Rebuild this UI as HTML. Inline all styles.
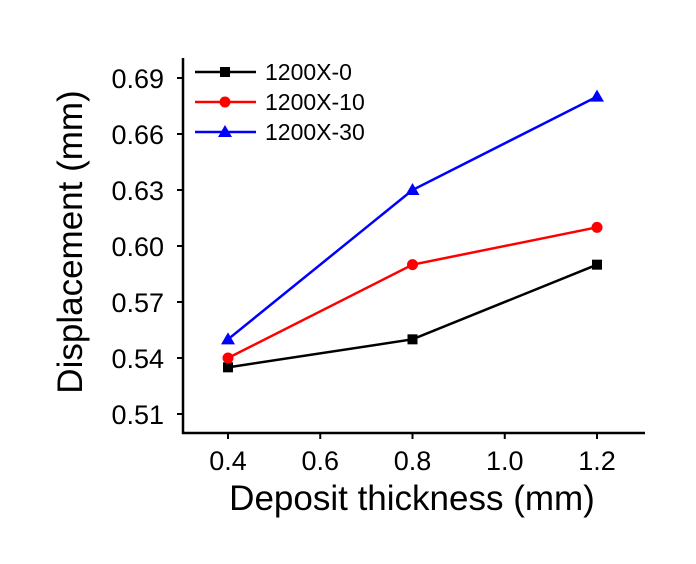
<!DOCTYPE html>
<html><head><meta charset="utf-8"><style>
body{margin:0;background:#fff}
svg text{font-family:"Liberation Sans",Arial,sans-serif}
</style></head><body>
<svg id="chart" width="696" height="559" viewBox="0 0 696 559" xmlns="http://www.w3.org/2000/svg">
<g id="axes"></g><g id="series"></g><g id="legend"></g>
</svg>
<script>
const xValues=[0.4,0.8,1.2];
const seriesNames=["1200X-0","1200X-10","1200X-30"];
const seriesColors=["#000000","#ff0000","#0000ff"];
const markers=["square","circle","triangle"];
const s0=[0.535,0.55,0.59];
const s1=[0.54,0.59,0.61];
const s2=[0.55,0.63,0.68];
const xTicks=[0.4,0.6,0.8,1.0,1.2];
const yTicks=[0.51,0.54,0.57,0.60,0.63,0.66,0.69];
const seriesData=[s0,s1,s2];
const NS="http://www.w3.org/2000/svg";
function X(v){return 228+(v-0.4)/0.2*92.25;}
function Y(v){return 414-(v-0.51)/0.03*56;}
function mk(p,tag,a){const e=document.createElementNS(NS,tag);for(const k in a)e.setAttribute(k,a[k]);p.appendChild(e);return e;}
const ax=document.getElementById('axes');
let e=mk(ax,'line',{x1:183,y1:58,x2:183,y2:434,stroke:'#000','stroke-width':2.5});


e=mk(ax,'line',{x1:182,y1:433,x2:645,y2:433,stroke:'#000','stroke-width':2.5});


yTicks.forEach(t=>{const y=Y(t);
mk(ax,'line',{x1:177,y1:y,x2:183,y2:y,stroke:'#000','stroke-width':2});
const tx=mk(ax,'text',{x:164,y:y+10,'text-anchor':'end','font-size':27});tx.textContent=t.toFixed(2);

});
xTicks.forEach(t=>{const x=X(t);
mk(ax,'line',{x1:x,y1:433,x2:x,y2:439,stroke:'#000','stroke-width':2});
const tx=mk(ax,'text',{x:x,y:470,'text-anchor':'middle','font-size':27});tx.textContent=t.toFixed(1);

});
e=mk(ax,'text',{x:412,y:510,'text-anchor':'middle','font-size':35});e.textContent='Deposit thickness (mm)';


e=mk(ax,'text',{x:0,y:0,'text-anchor':'middle','font-size':35,transform:'translate(82,242) rotate(-90)'});e.textContent='Displacement (mm)';


function marker(g,type,x,y,c){
 if(type==='square')return mk(g,'rect',{x:x-5,y:y-5,width:10,height:10,fill:c});
 if(type==='circle')return mk(g,'circle',{cx:x,cy:y,r:5.5,fill:c});
 return mk(g,'polygon',{points:`${x},${y-7} ${x-7},${y+5} ${x+7},${y+5}`,fill:c});
}
const sg=document.getElementById('series');
seriesData.forEach((d,i)=>{
 const g=mk(sg,'g',{});
 
 
 const pl=mk(g,'polyline',{points:d.map((v,j)=>X(xValues[j])+','+Y(v)).join(' '),fill:'none',stroke:seriesColors[i],'stroke-width':2.5});
 
 
 d.forEach((v,j)=>{const m=marker(g,markers[i],X(xValues[j]),Y(v),seriesColors[i]);
  
  });
});
const lg=document.getElementById('legend');
seriesNames.forEach((n,i)=>{const y=72+i*30;
 const g=mk(lg,'g',{});
 
 
 mk(g,'line',{x1:195,y1:y,x2:256,y2:y,stroke:seriesColors[i],'stroke-width':2.5});
 marker(g,markers[i],225,y,seriesColors[i]);
 const t=mk(g,'text',{x:265,y:y+8,'font-size':23});t.textContent=n;});
</script>
</body></html>
